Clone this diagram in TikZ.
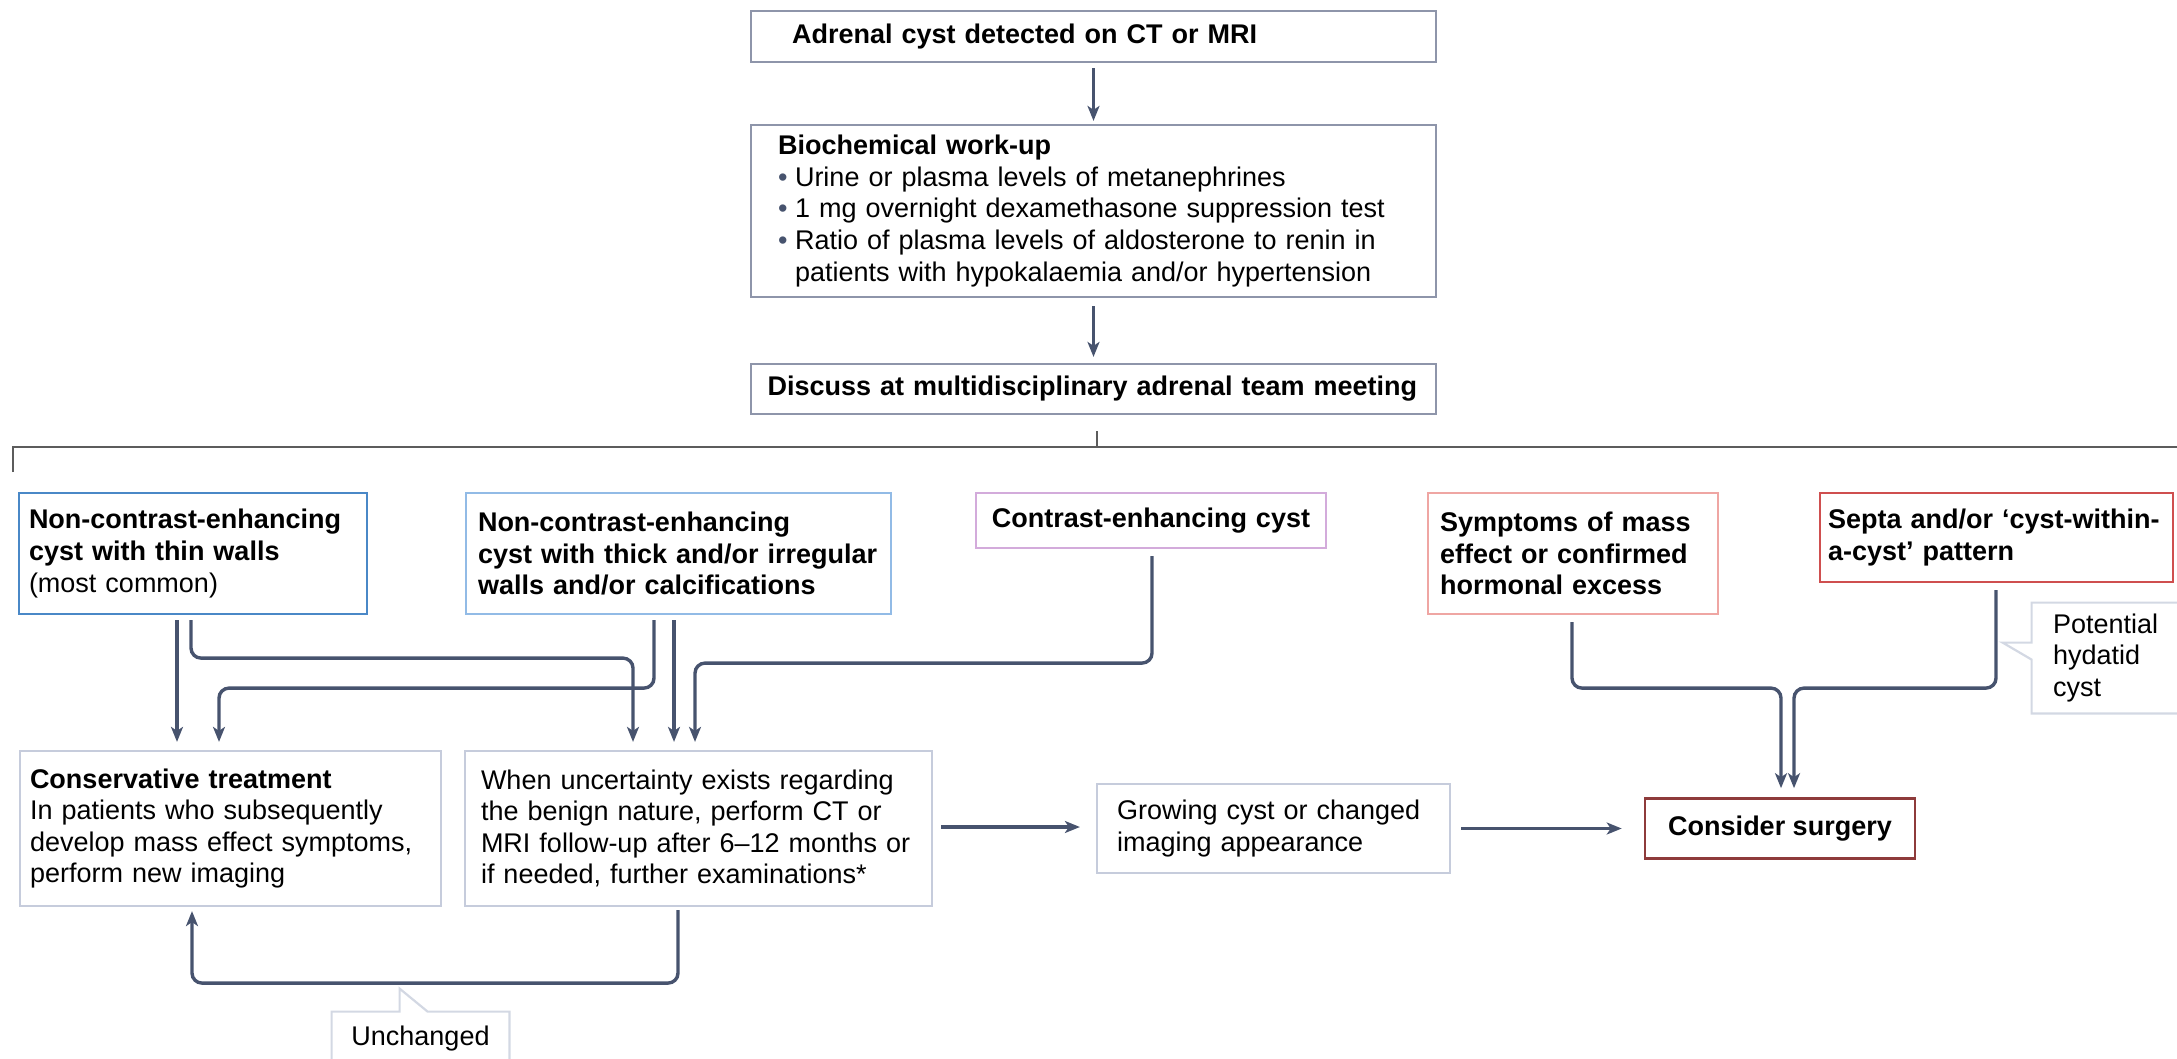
\documentclass[tikz,border=0pt]{standalone}
\usepackage{fontspec}
\setmainfont{Liberation Sans}
\usetikzlibrary{arrows.meta, calc, positioning}

\definecolor{linkcol}{HTML}{47536E}
\definecolor{greyedge}{HTML}{8E95AA}
\definecolor{paleedge}{HTML}{C6CCDC}
\definecolor{blueedge}{HTML}{4A88C7}
\definecolor{lightblueedge}{HTML}{92BBE6}
\definecolor{lilacedge}{HTML}{D3ABDB}
\definecolor{pinkedge}{HTML}{EFA6A3}
\definecolor{rededge}{HTML}{CF4F4F}
\definecolor{darkrededge}{HTML}{8E3B3B}
\definecolor{calloutedge}{HTML}{D3D8E3}
\definecolor{bracketcol}{HTML}{5C5C5C}

\newcommand{\itemdot}{\makebox[8.5pt][l]{\textcolor{linkcol}{\textbullet}}}

\begin{document}
\begin{tikzpicture}[x=0.5pt, y=-0.5pt,
    every node/.style={font=\fontsize{13.5}{15.8}\selectfont},
    flow box/.style={rectangle, draw, line width=1.1pt, align=left, inner ysep=0pt},
    note/.style={rectangle, align=left, inner ysep=0pt},
    link/.style={draw=linkcol, line width=1.7pt, rounded corners=5pt},
    arrow/.style={link, -{Stealth[length=7.5pt, width=6pt, inset=2pt]}},
    bracket/.style={draw=bracketcol, line width=1pt},
    note line/.style={draw=calloutedge, line width=1.1pt}
    ]

    \useasboundingbox (0,0) rectangle (2177,1059);

    % top of the flow
    \node[flow box, draw=greyedge, text width=301.5pt, inner xsep=20.5pt, minimum height=25.5pt] (T) at (1093.5,36.5)
        {\textbf{Adrenal cyst detected on CT or MRI}};

    \node[flow box, draw=greyedge, text width=315.5pt, inner xsep=13.5pt, minimum height=86pt] (BW) at (1093.5,211) {
        \textbf{Biochemical work-up}\\
        \itemdot Urine or plasma levels of metanephrines\\
        \itemdot 1 mg overnight dexamethasone suppression test\\
        \itemdot Ratio of plasma levels of aldosterone to renin in\\
        \hspace*{8.5pt}patients with hypokalaemia and/or hypertension
    };

    \node[flow box, draw=greyedge, text width=326pt, inner xsep=8.25pt, minimum height=25pt] (DM) at (1093.5,389)
        {\textbf{Discuss at multidisciplinary adrenal team meeting}};

    % imaging findings
    \node[flow box, draw=blueedge, text width=164pt, inner xsep=5pt, minimum height=60.5pt] (B1) at (193,553.5)
        {\textbf{Non-contrast-enhancing}\\\textbf{cyst with thin walls}\\(most common)};
    \node[flow box, draw=lightblueedge, text width=200.5pt, inner xsep=6pt, minimum height=60.5pt] (B2) at (678.5,553.5)
        {\textbf{Non-contrast-enhancing}\\\textbf{cyst with thick and/or irregular}\\\textbf{walls and/or calcifications}};
    \node[flow box, draw=lilacedge, align=center, text width=163pt, inner xsep=6pt, minimum height=27.5pt] (B3) at (1151,520.5)
        {\textbf{Contrast-enhancing cyst}};
    \node[flow box, draw=pinkedge, text width=133pt, inner xsep=6pt, minimum height=60.5pt] (B4) at (1573,553.5)
        {\textbf{Symptoms of mass}\\\textbf{effect or confirmed}\\\textbf{hormonal excess}};
    \node[flow box, draw=rededge, text width=168.5pt, inner xsep=4pt, minimum height=44.5pt] (B5) at (1996.5,537.5)
        {\textbf{Septa and/or ‘cyst-within-}\\\textbf{a-cyst’ pattern}};

    % management
    \node[flow box, draw=paleedge, text width=200.5pt, inner xsep=5pt, minimum height=77.5pt] (CT) at (230.5,828.5)
        {\textbf{Conservative treatment}\\In patients who subsequently\\develop mass effect symptoms,\\perform new imaging};
    \node[flow box, draw=paleedge, text width=217.5pt, inner xsep=8pt, minimum height=77.5pt] (UN) at (698.5,828.5)
        {When uncertainty exists regarding\\the benign nature, perform CT or\\MRI follow-up after 6–12 months or\\if needed, further examinations*};
    \node[flow box, draw=paleedge, text width=156.5pt, inner xsep=10pt, minimum height=44.5pt] (GC) at (1273.5,828.5)
        {Growing cyst or changed\\imaging appearance};
    \node[flow box, draw=darkrededge, line width=1.3pt, align=center, minimum width=135pt, minimum height=30pt] (CS) at (1780,828.5)
        {\textbf{Consider surgery}};

    % notes
    \node[note, text width=61.5pt, inner xsep=10.5pt, minimum height=55pt] (HC) at (2114.5,658) {Potential\\hydatid\\cyst};
    \node[note, align=center, minimum width=88.5pt, minimum height=27pt] (UC) at (420.5,1039) {Unchanged};

    \draw[note line] (HC.north west) -- ++(0,40) -- ++(-29,0) -- ++(29,17) -- (HC.south west) -- (HC.south east) -- (HC.north east) -- cycle;
    \draw[note line] (UC.north west) -- ++(68,0) -- ++(0,-23) -- ++(28,23) -- (UC.north east) -- (UC.south east) -- (UC.south west) -- cycle;

    % bracket
    \coordinate (brL) at (13,472);
    \coordinate (brR) at (2190,447);
    \draw[bracket] (brL) |- (brR);
    \draw[bracket] ($(DM.south)+(3.5,16)$) -- ($(DM.south)+(3.5,33)$);

    % arrows
    \draw[arrow] ($(T.south)+(0,5)$) -- ($(BW.north)+(0,-3)$);
    \draw[arrow] ($(BW.south)+(0,8)$) -- ($(DM.north)+(0,-6)$);

    \draw[arrow] ($(B1.south)+(-16,5)$) -- ($(CT.north)+(-53.5,-8)$);
    \draw[arrow] ($(B1.south)+(-2,5)$) -- ++(0,38) -| ($(UN.north)+(-65.5,-8)$);
    \draw[arrow] ($(B2.south)+(-24.5,5)$) -- ++(0,68) -| ($(CT.north)+(-11.5,-8)$);
    \draw[arrow] ($(B2.south)+(-4.5,5)$) -- ($(UN.north)+(-24.5,-8)$);
    \draw[arrow] ($(B3.south)+(1,7)$) -- ++(0,107) -| ($(UN.north)+(-3.5,-8)$);
    \draw[arrow] ($(B4.south)+(-1,7)$) -- ++(0,66) -| ($(CS.north)+(1,-9)$);
    \draw[arrow] ($(B5.south)+(-0.5,7)$) -- ++(0,98) -| ($(CS.north)+(14,-9)$);

    \draw[arrow] ($(UN.east)+(8,-1.5)$) -- ($(GC.west)+(-16,-1.5)$);
    \draw[arrow] ($(GC.east)+(10,0)$) -- ($(CS.west)+(-22,0)$);
    \draw[arrow] ($(UN.south)+(-20.5,3)$) -- ++(0,73) -| ($(CT.south)+(-38.5,4)$);

\end{tikzpicture}
\end{document}
